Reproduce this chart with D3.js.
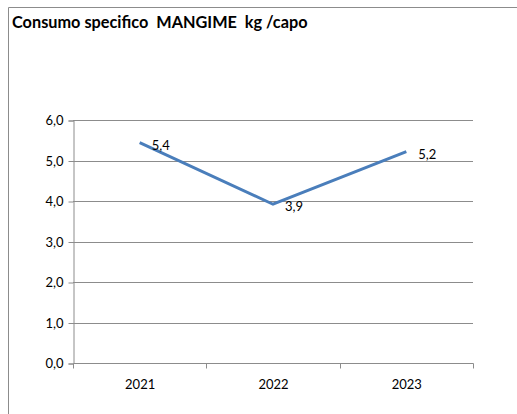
<!DOCTYPE html>
<html>
<head>
<meta charset="utf-8">
<script src="https://cdn.jsdelivr.net/npm/d3@7"></script>
<style>
  body { margin: 0; background: #fff; }
  svg { display: block; font-family: Lato, "Open Sans", sans-serif; }
</style>
</head>
<body>
<div id="chart"></div>
<script>
// Data
const years = ["2021", "2022", "2023"];
const consumo = [5.44, 3.92, 5.22];
const yTicks = [0, 1, 2, 3, 4, 5, 6];
const titleText = "Consumo specifico  MANGIME  kg /capo";

const width = 517;
const height = 414;
const margin = { top: 120, right: 44, bottom: 51, left: 73 };

const svg = d3.select("#chart")
    .append("svg")
    .attr("width", width)
    .attr("height", height);

// Chart frame (top and left edges visible)
svg.append("path")
    .attr("d", `M8.5,${height} V7.5 H${width}`)
    .attr("fill", "none")
    .attr("stroke", "#8c8c8c")
    .attr("stroke-width", 1);

// Title
svg.append("text")
    .attr("x", 12)
    .attr("y", 28)
    .attr("font-size", 16.3)
    .attr("font-weight", "bold")
    .attr("fill", "#000")
    .style("white-space", "pre")
    .text(titleText);

// Scales
const x = d3.scaleBand()
    .domain(years)
    .range([margin.left, width - margin.right]);

const y = d3.scaleLinear()
    .domain([0, 6])
    .range([height - margin.bottom, margin.top]);

// Gridlines
svg.append("g")
    .selectAll("line")
    .data(yTicks.slice(1))
    .enter()
    .append("line")
    .attr("x1", margin.left)
    .attr("x2", width - margin.right)
    .attr("y1", d => Math.round(y(d)) + 0.5)
    .attr("y2", d => Math.round(y(d)) + 0.5)
    .attr("stroke", "#8c8c8c");

// Y axis
const yAxis = svg.append("g")
    .attr("transform", `translate(${margin.left + 0.5}, 0.5)`)
    .call(d3.axisLeft(y)
        .tickValues(yTicks)
        .tickSize(5)
        .tickPadding(5)
        .tickFormat(d => d3.format(".1f")(d).replace(".", ",")));

// X axis with boundary ticks
const xAxis = svg.append("g")
    .attr("transform", `translate(0.5, ${Math.round(y(0)) + 0.5})`);
xAxis.append("line")
    .attr("x1", margin.left)
    .attr("x2", width - margin.right)
    .attr("stroke", "#8c8c8c");
const boundaries = years.map(d => x(d)).concat([width - margin.right]);
xAxis.selectAll(".tk")
    .data(boundaries)
    .enter()
    .append("line")
    .attr("x1", d => Math.round(d))
    .attr("x2", d => Math.round(d))
    .attr("y1", 0)
    .attr("y2", 5)
    .attr("stroke", "#8c8c8c");
xAxis.selectAll(".lbl")
    .data(years)
    .enter()
    .append("text")
    .attr("x", d => x(d) + x.bandwidth() / 2)
    .attr("y", 25)
    .attr("text-anchor", "middle")
    .attr("font-size", 13)
    .attr("fill", "#000")
    .text(d => d);

yAxis.select(".domain").attr("stroke", "#8c8c8c");
yAxis.selectAll(".tick line").attr("stroke", "#8c8c8c");
yAxis.selectAll(".tick text").attr("font-size", 13).attr("fill", "#000")
    .attr("font-family", "Lato, 'Open Sans', sans-serif");

// Line
const pts = years.map((yr, i) => ({ year: yr, value: consumo[i] }));
const line = d3.line()
    .x(d => x(d.year) + x.bandwidth() / 2)
    .y(d => y(d.value));

svg.append("path")
    .datum(pts)
    .attr("d", line)
    .attr("fill", "none")
    .attr("stroke", "#4a7ebb")
    .attr("stroke-width", 3);

// Data labels
svg.selectAll(".dl")
    .data(pts)
    .enter()
    .append("text")
    .attr("x", d => x(d.year) + x.bandwidth() / 2 + 12)
    .attr("y", d => y(d.value) + 7)
    .attr("font-size", 13)
    .attr("fill", "#000")
    .text(d => d3.format(".1f")(d.value).replace(".", ","));
</script>
</body>
</html>
